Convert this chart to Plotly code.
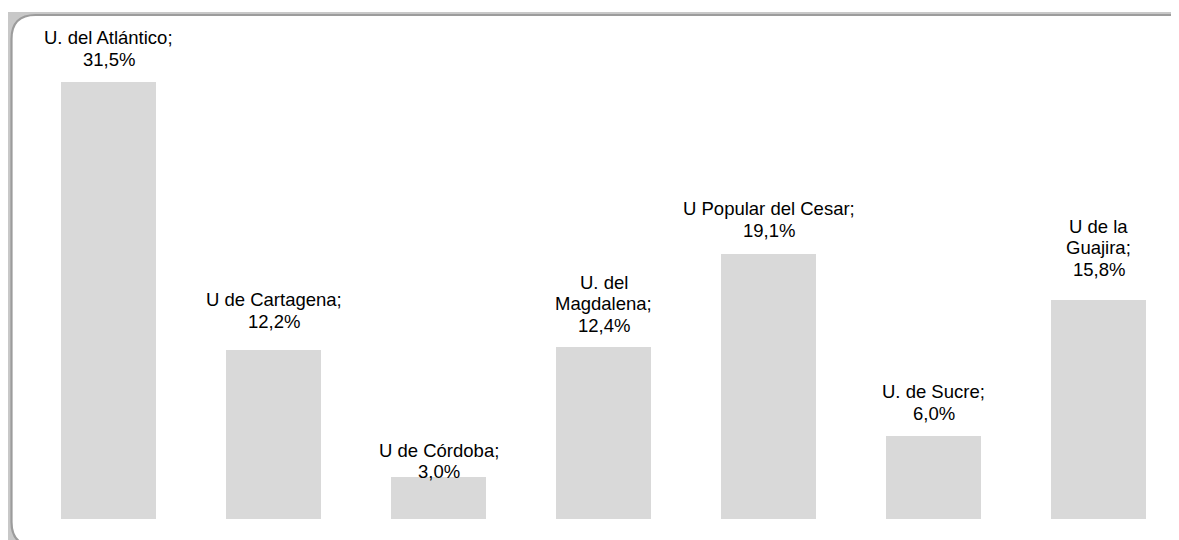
import plotly.graph_objects as go

# ---- data ----
categories = ["U. del Atlántico", "U de Cartagena", "U de Córdoba", "U. del<br>Magdalena",
              "U Popular del Cesar", "U. de Sucre", "U de la<br>Guajira"]
values = [31.5, 12.2, 3.0, 12.4, 19.1, 6.0, 15.8]

# ---- style ----
PAGE_W, PAGE_H = 1179, 540
OFF = 8                      # default body margin of the html page
W, H = PAGE_W - OFF, PAGE_H - OFF
BAR_COLOR = "#d9d9d9"
FONT = "Liberation Sans, Arial, sans-serif"
FONT_SIZE = 18.5
LINE_SPACING = 21.5
label_gaps = [15, 21, -2, 14, 16, 15, 23]   # px between last text baseline and bar top
BASELINE_TO_BOTTOM = 5

x_idx = list(range(len(categories)))

fig = go.Figure()
fig.add_trace(go.Bar(
    x=x_idx, y=values, width=0.576,
    marker=dict(color=BAR_COLOR, line=dict(width=0)),
    hoverinfo="skip", showlegend=False,
))

annotations = []
for i, (cat, v) in enumerate(zip(categories, values)):
    lines = (cat + ";").split("<br>") + [f"{v:.1f}".replace(".", ",") + "%"]
    n = len(lines)
    for k, ln in enumerate(lines):
        annotations.append(dict(
            x=i, y=v, xref="x", yref="y", text=ln, showarrow=False,
            xanchor="center", yanchor="bottom",
            yshift=label_gaps[i] + (n - 1 - k) * LINE_SPACING - BASELINE_TO_BOTTOM,
            font=dict(family=FONT, size=FONT_SIZE, color="#000000"),
        ))


def P(x, y):
    # page pixel -> paper coordinate
    return (x - OFF) / W, 1 - (y - OFF) / H


def rounded_path(x0, y0, x1, y1, r):
    def pt(x, y):
        a, b = P(x, y)
        return f"{a:.6f},{b:.6f}"
    return (f"M {pt(x0 + r, y0)} L {pt(x1 - r, y0)} Q {pt(x1, y0)} {pt(x1, y0 + r)} "
            f"L {pt(x1, y1 - r)} Q {pt(x1, y1)} {pt(x1 - r, y1)} "
            f"L {pt(x0 + r, y1)} Q {pt(x0, y1)} {pt(x0, y1 - r)} "
            f"L {pt(x0, y0 + r)} Q {pt(x0, y0)} {pt(x0 + r, y0)} Z")


gx0, gy0 = P(8, 12)
gx1, gy1 = P(1210, 560)
shapes = [
    dict(type="rect", xref="paper", yref="paper", x0=gx0, y0=gy1, x1=gx1, y1=gy0,
         fillcolor="#c8c8c8", line=dict(width=0), layer="below"),
    dict(type="path", xref="paper", yref="paper", path=rounded_path(11.5, 15, 1196, 546, 24),
         fillcolor="#ffffff", line=dict(color="#9c9c9c", width=2.2), layer="below"),
]

px_per_cat = 165.0
center0 = 108.5 - OFF          # first bar centre, figure px
base_y = 519 - OFF             # zero line, figure px
y_scale = (519 - 81.7) / 31.5
fig.update_layout(
    width=W, height=H,
    margin=dict(l=0, r=0, t=0, b=0),
    paper_bgcolor="#ffffff", plot_bgcolor="rgba(0,0,0,0)",
    xaxis=dict(visible=False, range=[-center0 / px_per_cat, (W - center0) / px_per_cat],
               fixedrange=True),
    yaxis=dict(visible=False, range=[-(H - base_y) / y_scale, base_y / y_scale], fixedrange=True),
    bargap=0,
    annotations=annotations,
    shapes=shapes,
    showlegend=False,
)

fig.write_html("out.html")
